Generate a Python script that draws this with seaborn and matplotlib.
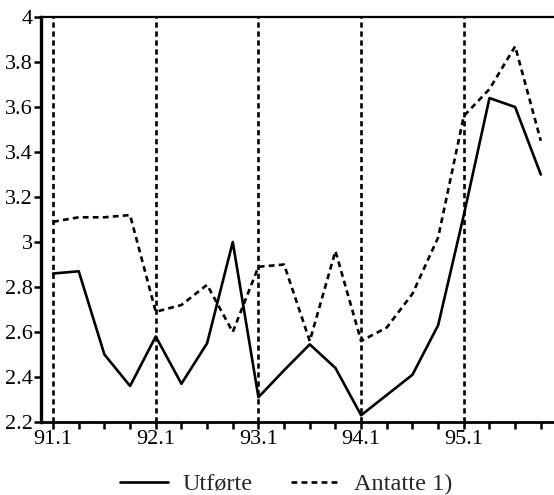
import pandas as pd
import seaborn as sns
import matplotlib.pyplot as plt
from matplotlib.lines import Line2D

# quarters 91.1 .. 95.4
quarters = [f"{y}.{q}" for y in range(91, 96) for q in range(1, 5)]
utforte = [2.86, 2.87, 2.50, 2.36, 2.58, 2.37, 2.55, 3.00,
           2.31, 2.43, 2.545, 2.44, 2.23, 2.32, 2.41, 2.63,
           3.12, 3.64, 3.60, 3.30]
antatte = [3.09, 3.11, 3.11, 3.12, 2.69, 2.72, 2.81, 2.60,
           2.89, 2.90, 2.56, 2.96, 2.56, 2.62, 2.77, 3.02,
           3.56, 3.68, 3.87, 3.45]
year_labels = ["91.1", "92.1", "93.1", "94.1", "95.1"]
y_ticks = [2.2, 2.4, 2.6, 2.8, 3.0, 3.2, 3.4, 3.6, 3.8, 4.0]
y_labels = ["2.2", "2.4", "2.6", "2.8", "3", "3.2", "3.4", "3.6", "3.8", "4"]

df = pd.DataFrame({
    'idx': list(range(len(quarters))) * 2,
    'value': utforte + antatte,
    'serie': ['Utførte'] * len(utforte) + ['Antatte 1)'] * len(antatte),
})

sns.set_style('ticks')
plt.rcParams['font.family'] = ['Liberation Serif', 'DejaVu Serif']

fig = plt.figure(figsize=(5.54, 4.95), dpi=100)
ax = fig.add_axes([0.074, 0.1475, 0.93, 0.818])

sns.lineplot(data=df, x='idx', y='value', style='serie', color='black',
             dashes={'Utførte': '', 'Antatte 1)': (2.2, 1.6)},
             linewidth=1.9, legend=False, ax=ax)

# vertical year separators
for i, q in enumerate(quarters):
    if q in year_labels:
        ax.axvline(i, color='black', linestyle=(0, (2.0, 1.4)), linewidth=1.9, zorder=1)

ax.set_xlim(-0.47, 19.6)
ax.set_ylim(2.2, 4.0)
ax.set_xticks(range(len(quarters)))
ax.set_xticklabels([q if q in year_labels else '' for q in quarters])
ax.set_yticks(y_ticks)
ax.set_yticklabels(y_labels)
ax.tick_params(axis='both', direction='out', length=5, width=1.8,
               labelsize=16, colors='black', pad=1)
ax.set_xlabel('')
ax.set_ylabel('')

ax.spines['right'].set_visible(False)
ax.spines['left'].set_linewidth(2.4)
ax.spines['bottom'].set_linewidth(2.0)
ax.spines['top'].set_linewidth(1.6)
for s in ax.spines.values():
    s.set_color('black')

handles = [Line2D([], [], color='black', lw=1.9, linestyle='-'),
           Line2D([], [], color='black', lw=1.9, linestyle=(0, (2.2, 1.6)))]
fig.legend(handles, ['Utførte', 'Antatte 1)'], loc='center',
           bbox_to_anchor=(286 / 554, 1 - 484 / 495), ncol=2, frameon=False,
           fontsize=17.5, handlelength=2.0, handletextpad=0.58,
           columnspacing=1.6, borderpad=0)

fig.savefig('out.png', dpi=100)
